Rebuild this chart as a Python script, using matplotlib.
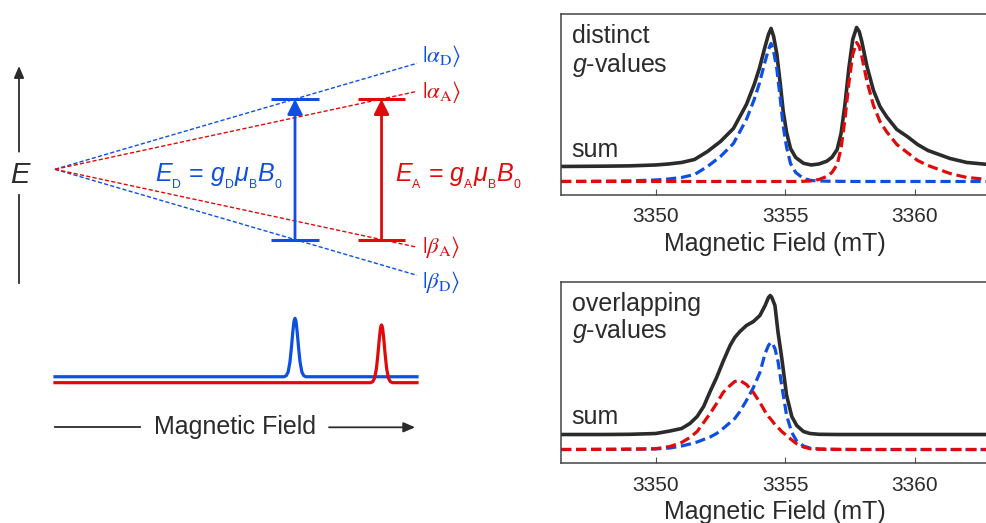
import matplotlib
matplotlib.use("Agg")
import matplotlib.pyplot as plt

plt.rcParams['font.family'] = ['Liberation Sans', 'DejaVu Sans']
plt.rcParams['mathtext.fontset'] = 'custom'
plt.rcParams['mathtext.rm'] = 'Liberation Sans'
plt.rcParams['mathtext.it'] = 'Liberation Sans:italic'
plt.rcParams['mathtext.bf'] = 'Liberation Sans:bold'

BLUE = '#0d4fe3'
RED = '#e00a0a'
DARK = '#2b2b2b'

# --- energy-level diagram (schematic units: field 0..1) ---
g_D = 2.0
g_A = 1.47
h_nu = 1.326          # microwave quantum, same for both spins
B_max = 1.0

# schematic peak in the small spectrum (field offset, relative intensity)
peak_offset = [-0.040, -0.030, -0.024, -0.019, -0.014, -0.010, -0.006, -0.003, -0.0015,
               0.0, 0.0015, 0.003, 0.006, 0.010, 0.014, 0.019, 0.024, 0.030, 0.040]
peak_shape = [0.0, 0.0, 0.02, 0.08, 0.25, 0.49, 0.77, 0.94, 0.98,
              1.0, 0.98, 0.94, 0.77, 0.49, 0.25, 0.08, 0.02, 0.0, 0.0]
peak_height = {'D': 0.551, 'A': 0.545}
spec_base = {'D': -1.957, 'A': -2.013}

# --- EPR spectra, top panel: distinct g-values ---
field_top = [3346.35, 3348.0, 3349.0, 3350.0, 3350.5, 3351.0, 3351.5, 3352.0, 3352.5,
             3353.0, 3353.5, 3353.8, 3354.0, 3354.2, 3354.35, 3354.45, 3354.55, 3354.67,
             3354.8, 3354.92, 3355.05, 3355.2, 3355.4, 3355.7, 3356.0, 3356.3, 3356.6,
             3356.8, 3357.0, 3357.15, 3357.3, 3357.45, 3357.6, 3357.75, 3357.85, 3357.95,
             3358.15, 3358.4, 3358.65, 3358.9, 3359.3, 3359.7, 3360.1, 3360.5, 3361.35,
             3362.0, 3362.82]
blue_top = [0, 0.3, 0.6, 1.5, 2.5, 4, 7, 15, 25, 38, 62, 82, 98, 118, 132, 138, 130, 113,
            84, 55, 34, 18, 9, 3, 1, 0.5, 0.3, 0.2, 0.2, 0.1, 0.1, 0.1, 0, 0, 0, 0,
            0, 0, 0, 0, 0, 0, 0, 0, 0, 0, 0]
red_top = [0, 0, 0, 0, 0, 0, 0, 0, 0, 0, 0, 0, 0, 0, 0, 0, 0, 0,
           0, 0, 0, 0, 0, 0.2, 0.5, 2, 5, 9, 17, 33, 62, 98, 127, 139, 135, 125,
           100, 76, 60, 50, 37, 29, 21, 16, 8, 4, 2]
sum_top = [15, 15.3, 15.6, 16.5, 17.5, 19, 22, 30, 40, 53, 77, 97, 113, 133, 147, 153, 145, 128,
           99, 70, 49, 33, 24, 18.2, 16.5, 17.5, 20.3, 24.2, 32, 48, 77, 113, 142, 154, 150, 140,
           115, 91, 75, 65, 52, 45, 37, 31, 23, 19, 17]

# --- bottom panel: overlapping g-values ---
field_bot = [3346.35, 3348.0, 3349.0, 3350.0, 3350.55, 3351.0, 3351.32, 3351.6, 3351.85,
             3352.1, 3352.35, 3352.6, 3352.87, 3353.05, 3353.25, 3353.5, 3353.77, 3354.02,
             3354.22, 3354.35, 3354.42, 3354.48, 3354.6, 3354.72, 3354.86, 3355.05, 3355.25,
             3355.44, 3355.7, 3355.95, 3356.3, 3357.0, 3358.0, 3362.82]
blue_bot = [0, 0.2, 0.3, 0.6, 1.5, 3.5, 5.5, 7.5, 10, 12.5, 16, 21, 27, 31, 38, 49, 62, 77,
            96, 104, 106.5, 107, 101, 88, 64, 34, 17, 8.5, 3.5, 1.5, 0.6, 0.2, 0, 0]
red_bot = [0, 0.1, 0.3, 0.8, 3, 7, 12, 18, 27, 36, 46, 57, 64, 68, 69, 65, 57, 47,
           38, 33, 31, 29, 25, 22, 18, 14, 9.5, 5.7, 2.5, 0.8, 0.2, 0, 0, 0]
sum_bot = [15, 15, 15.2, 16, 18.5, 21, 26, 33, 43, 58, 72, 88, 104, 112, 118, 124, 128, 134,
           144, 152, 154, 152, 144, 117, 92, 54, 33, 24, 18, 16, 15.2, 15, 15, 15]

field_ticks = [3350, 3355, 3360]

fig = plt.figure(figsize=(9.86, 5.23), dpi=100)

# ---------------- left: Zeeman diagram ----------------
axL = fig.add_axes([0, 0, 540 / 986, 1])
axL.set_xlim(-0.1519, 1.3398)
axL.set_ylim(-3.3368, 1.5972)
axL.axis('off')

spins = [('D', g_D, BLUE), ('A', g_A, RED)]
for name, g, c in spins:
    for s in (1, -1):
        axL.plot([0, B_max], [0, s * g * B_max / 2], color=c, lw=1.0, ls=(0, (3, 1.6)))

for name, g, c in spins:
    B_res = h_nu / g
    for s in (1, -1):
        axL.plot([B_res - 0.066, B_res + 0.066], [s * h_nu / 2] * 2, color=c, lw=2.2,
                 solid_capstyle='butt')
    axL.annotate('', xy=(B_res, h_nu / 2), xytext=(B_res, -h_nu / 2),
                 arrowprops=dict(arrowstyle='-|>,head_length=0.9,head_width=0.45', color=c,
                                 lw=2.0, shrinkA=0, shrinkB=0))
    # small schematic spectrum underneath
    xs = [0] + [B_res + o for o in peak_offset] + [B_max]
    ys = [spec_base[name]] + [spec_base[name] + peak_height[name] * p for p in peak_shape] + [spec_base[name]]
    axL.plot(xs, ys, color=c, lw=2.3, solid_joinstyle='round')

ket_shift = {'D': 0.065, 'A': -0.004}
for name, g, c in spins:
    axL.text(1.014, g / 2 + ket_shift[name], r'$|\alpha_{\mathrm{%s}}\rangle$' % name,
             color=c, fontsize=16.5, ha='left', va='center', math_fontfamily='stix')
    axL.text(1.014, -g / 2 - ket_shift[name], r'$|\beta_{\mathrm{%s}}\rangle$' % name,
             color=c, fontsize=16.5, ha='left', va='center', math_fontfamily='stix')


def zeeman_label(n):
    s = r'{}_{\mathrm{%s}}'
    return (r'$E_{%s}$ = $g_{%s}\mu_{%s}B_{%s}$'
            % (s % n, s % n, s % 'B', s % '0'))


axL.text(0.631, -0.117, zeeman_label('D'), color=BLUE, fontsize=18, ha='right', va='baseline')
axL.text(0.939, -0.117, zeeman_label('A'), color=RED, fontsize=18, ha='left', va='baseline')

# energy axis
axL.annotate('', xy=(-0.0994, 0.9745), xytext=(-0.0994, 0.166),
             arrowprops=dict(arrowstyle='-|>,head_length=0.7,head_width=0.3', color=DARK,
                             lw=1.3, shrinkA=0, shrinkB=0))
axL.plot([-0.0994, -0.0994], [-0.242, -1.07], color=DARK, lw=1.3)
axL.text(-0.097, -0.054, 'E', style='italic', fontsize=21, color=DARK, ha='center', va='center')

# field axis
axL.plot([0, 0.236], [-2.434, -2.434], color=DARK, lw=1.3)
axL.annotate('', xy=(0.995, -2.434), xytext=(0.757, -2.434),
             arrowprops=dict(arrowstyle='-|>,head_length=0.7,head_width=0.3', color=DARK,
                             lw=1.3, shrinkA=0, shrinkB=0))
axL.text(0.497, -2.434, 'Magnetic Field', fontsize=18, color=DARK, ha='center', va='center')

# ---------------- right: EPR spectra ----------------
panels = [
    ([0.5690, 0.6272, 0.4331, 0.3461], field_top, blue_top, red_top, sum_top,
     ['distinct', '$g$-values'], [0.840, 0.681], 0.212),
    ([0.5690, 0.1147, 0.4331, 0.3461], field_bot, blue_bot, red_bot, sum_bot,
     ['overlapping', '$g$-values'], [0.841, 0.689], 0.216),
]
for rect, field, blue, red, total, label, label_y, sum_y in panels:
    ax = fig.add_axes(rect)
    ax.plot(field, total, color=DARK, lw=2.6, solid_joinstyle='round')
    ax.plot(field, blue, color=BLUE, lw=2.3, ls=(0, (3.2, 1.5)))
    ax.plot(field, red, color=RED, lw=2.3, ls=(0, (3.2, 1.5)))
    ax.set_xlim(3346.35, 3362.82)
    ax.set_ylim(-13.5, 167.5)
    ax.set_yticks([])
    ax.set_xticks(field_ticks)
    ax.tick_params(axis='x', direction='in', length=4.5, width=0.8, color='#555555',
                   labelsize=15, pad=9, labelcolor=DARK)
    for sp in ('left', 'top', 'bottom'):
        ax.spines[sp].set_color('#444444')
        ax.spines[sp].set_linewidth(1.1)
    ax.spines['right'].set_visible(False)
    ax.set_xlabel('Magnetic Field (mT)', fontsize=18, color=DARK, labelpad=4)
    for txt, yy in zip(label, label_y):
        ax.text(0.025, yy, txt, transform=ax.transAxes, fontsize=18, color=DARK, va='baseline')
    ax.text(0.025, sum_y, 'sum', transform=ax.transAxes, fontsize=18, color=DARK, va='baseline')

fig.savefig('out.png', dpi=100)
